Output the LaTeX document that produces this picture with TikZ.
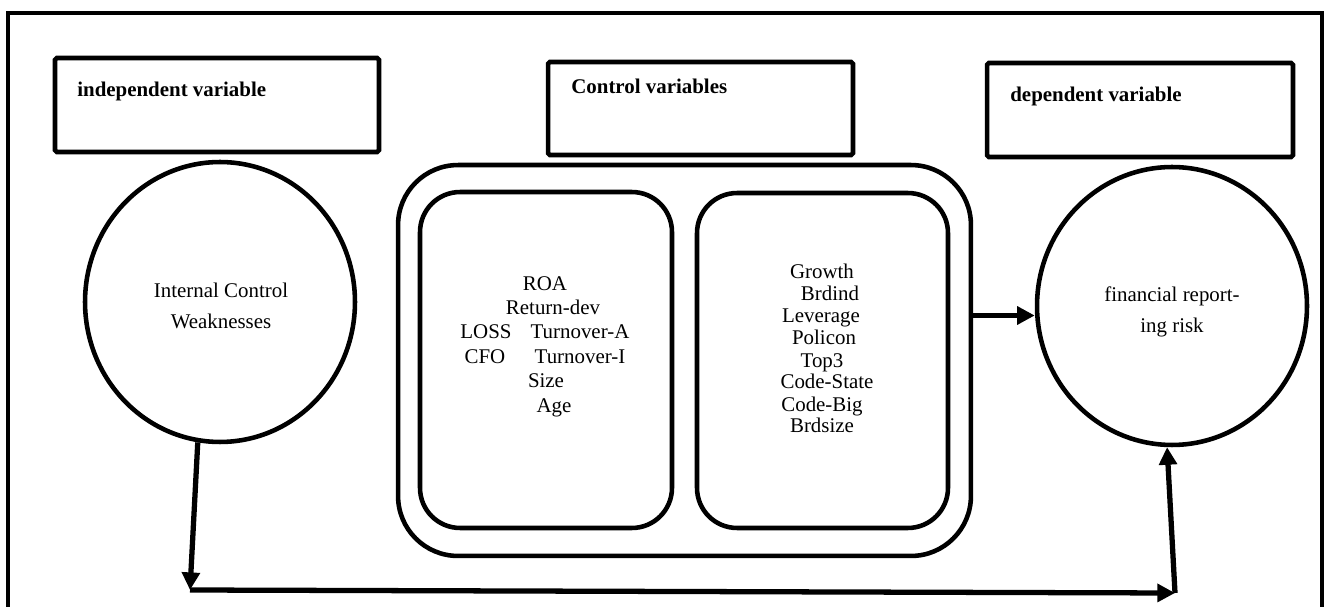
\documentclass[tikz,border=0pt]{standalone}
\usepackage{fontspec}
\setmainfont{Liberation Serif}
\usetikzlibrary{arrows.meta,shapes.geometric}
\begin{document}
\begin{tikzpicture}[x=0.02cm,y=-0.02cm, % ------ research model ----------------
    every node/.style={font=\fontsize{11.9}{17.5}\selectfont},
    hdrbox/.style={draw,line width=2.6pt,rounded corners=1pt,inner sep=0pt},
    hdrtxt/.style={font=\bfseries\fontsize{11.9}{14}\selectfont,anchor=base west,inner sep=0pt},
    panel/.style={draw,line width=2.6pt,inner sep=0pt},
    bubble/.style={draw,ellipse,line width=2.6pt,inner sep=0pt,
                   minimum width=5.4cm,minimum height=5.6cm},
    bubbletxt/.style={align=center,inner sep=0pt},
    varname/.style={inner sep=0pt,text height=1.5ex,text depth=.25ex},
    arr/.style={line width=3pt,-{Triangle[length=10pt,width=10pt]}}]
    \useasboundingbox (0,0) rectangle (1325,607);
    \draw [line width=2.6pt] (8,607)--(8,13)--(1322,13)--(1322,607);
    % headers
    \node [hdrbox,minimum width=6.48cm,minimum height=1.88cm] (indep) at (217,105) {};
    \node [hdrtxt] (indeptxt) at (77,97) {independent variable};
    \node [hdrbox,minimum width=6.1cm,minimum height=1.86cm] (ctl) at (700.5,108.5) {};
    \node [hdrtxt] (ctltxt) at (571,94) {Control variables};
    \node [hdrbox,minimum width=6.12cm,minimum height=1.88cm] (dep) at (1140,110) {};
    \node [hdrtxt] (deptxt) at (1010,102) {dependent variable};
    % circles
    \node [bubble] (icw) at (220,302) {};
    \node [bubbletxt] (icwtxt) at (221,306) {Internal Control\\Weaknesses};
    \node [bubble,minimum height=5.56cm] (frr) at (1172,306) {};
    \node [bubbletxt] (frrtxt) at (1172,312) {financial report-\\ing risk};
    % control panels
    \node [panel,rounded corners=1.2cm,minimum width=11.46cm,minimum height=7.82cm] (ctlall) at (684.5,360.5) {};
    \node [panel,rounded corners=0.8cm,minimum width=5.04cm,minimum height=6.72cm] (ctlA) at (546,360) {};
    \node [panel,rounded corners=0.8cm,minimum width=5.02cm,minimum height=6.7cm] (ctlB) at (822.5,360.5) {};
    \foreach \n/\x/\y/\t in {roa/545/285/ROA, retdev/553/309/Return-dev,
        loss/486/333/LOSS, turnA/580/333/Turnover-A, cfo/485/358/CFO,
        turnI/580/358/Turnover-I, size/546/382/Size, age/554/407/Age,
        growth/822/273/Growth, brdind/830/295/Brdind, lev/821/317/Leverage,
        policon/824/339/Policon, top/822/362/Top3, cstate/827/383/Code-State,
        cbig/822/406/Code-Big, brdsize/822/427/Brdsize}
      \node [varname] (\n) at (\x,\y) {\t};
    % arrows
    \path (ctlall.east) ++(0,-45) coordinate (ctlout);
    \draw [arr] (ctlout) -- (ctlout -| frr.west);
    \coordinate (bl) at (190,590);
    \coordinate (br) at (1175,593);
    \draw [arr] (icw.261) -- (bl);
    \draw [arr] (bl) -- (br);
    \draw [arr] (br) -- (frr.268);
\end{tikzpicture}
\end{document}
